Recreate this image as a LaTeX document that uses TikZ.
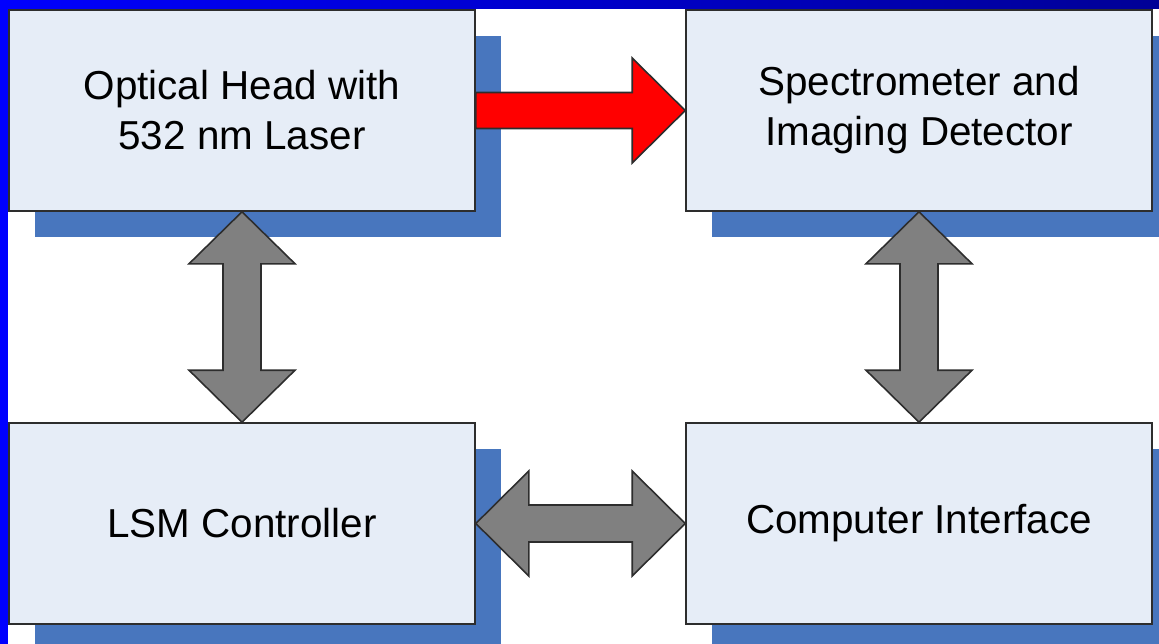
\documentclass[tikz,border=0pt]{standalone}
\usepackage{fontspec}
\setmainfont{Liberation Sans}
\usetikzlibrary{calc,shadows}

\definecolor{boxfill}{RGB}{230,237,247}
\definecolor{shadowblue}{RGB}{72,118,190}
\definecolor{edgegray}{RGB}{45,45,45}
\definecolor{arrowgray}{RGB}{128,128,128}
\definecolor{framenavy}{RGB}{0,0,150}

\tikzset{
	unitbox/.style={draw=edgegray, line width=0.9pt, fill=boxfill,
		minimum width=9.32cm, minimum height=4.02cm, align=center,
		font=\fontsize{23}{28.5}\selectfont,
		drop shadow={shadow xshift=0.52cm, shadow yshift=-0.52cm, fill=shadowblue, opacity=1}},
	linkarrow/.style={draw=edgegray, line width=0.9pt, fill=arrowgray, line join=miter},
	beamarrow/.style={linkarrow, fill=red},
}

\begin{document}
\begin{tikzpicture}
	\useasboundingbox (0,0) rectangle (23.18,-12.88);
	\clip (0,0) rectangle (23.18,-12.88);
	
	% frame
	\fill[blue] (0,0) rectangle (0.16,-12.88);
	\shade[left color=blue, right color=framenavy] (0,0) rectangle (23.18,-0.18);
	
	% the four units
	\node[unitbox] (ohead) at (4.84,-2.21) {Optical Head with\\532 nm Laser};
	\node[unitbox] (spec) at (18.38,-2.21) {Spectrometer and\\Imaging Detector};
	\node[unitbox] (lsm) at (4.84,-10.47) {LSM Controller};
	\node[unitbox] (comp) at (18.38,-10.47) {Computer Interface};
	
	% laser beam
	\draw[beamarrow] ($(ohead.east)+(0,0.36)$) -- ($(spec.west)+(-1.06,0.36)$) -- ++(0,0.69)
		-- (spec.west) -- ++(-1.06,-1.05) -- ++(0,0.69) -- ($(ohead.east)+(0,-0.36)$) -- cycle;
	
	% head <-> controller
	\draw[linkarrow] (ohead.south) -- ++(1.06,-1.04) -- ++(-0.68,0) -- ($(lsm.north)+(0.38,1.04)$)
		-- ++(0.68,0) -- (lsm.north) -- ++(-1.06,1.04) -- ++(0.68,0)
		-- ($(ohead.south)+(-0.38,-1.04)$) -- ++(-0.68,0) -- cycle;
	
	% spectrometer <-> computer
	\draw[linkarrow] (spec.south) -- ++(1.06,-1.04) -- ++(-0.68,0) -- ($(comp.north)+(0.38,1.04)$)
		-- ++(0.68,0) -- (comp.north) -- ++(-1.06,1.04) -- ++(0.68,0)
		-- ($(spec.south)+(-0.38,-1.04)$) -- ++(-0.68,0) -- cycle;
	
	% controller <-> computer
	\draw[linkarrow] (lsm.east) -- ++(1.06,1.05) -- ++(0,-0.68) -- ($(comp.west)+(-1.06,0.37)$)
		-- ++(0,0.68) -- (comp.west) -- ++(-1.06,-1.05) -- ++(0,0.68)
		-- ($(lsm.east)+(1.06,-0.37)$) -- ++(0,-0.68) -- cycle;
	
\end{tikzpicture}
\end{document}
